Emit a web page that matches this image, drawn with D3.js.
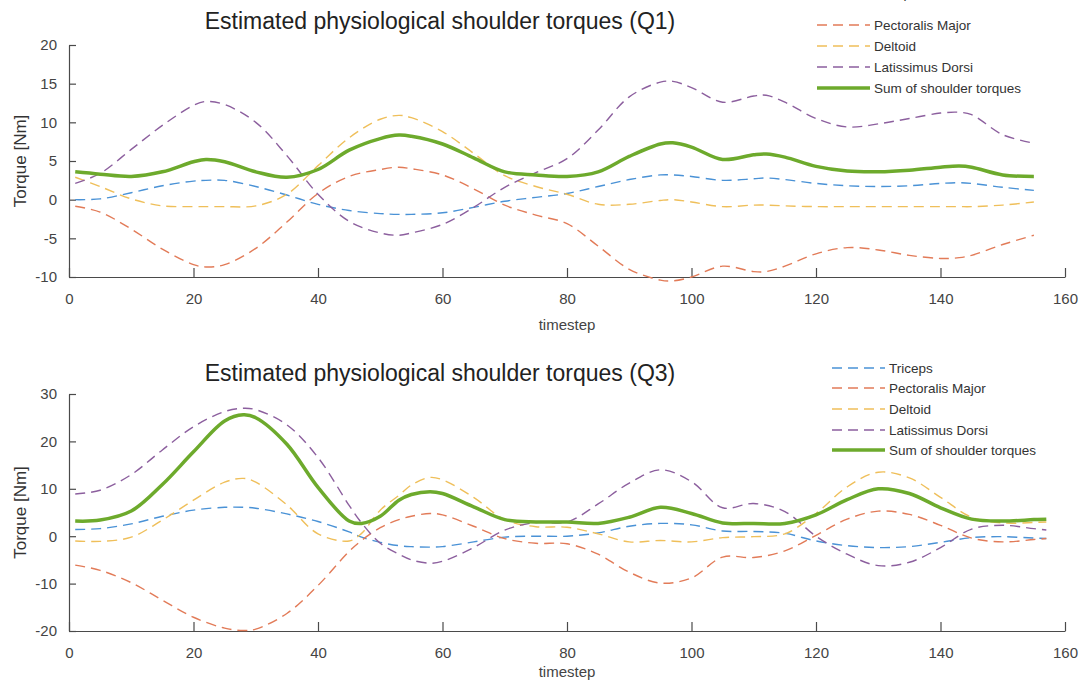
<!DOCTYPE html>
<html><head><meta charset="utf-8">
<script src="https://cdn.jsdelivr.net/npm/d3@7"></script>
<style>
body{margin:0;background:#fff;}
svg{display:block;font-family:"Liberation Sans",Arial,sans-serif;}
</style></head>
<body><svg id="c" width="1082" height="681"></svg>
<script>
// ---------- DATA ----------
const seriesNames = ["Triceps","Pectoralis Major","Deltoid","Latissimus Dorsi","Sum of shoulder torques"];
const xTicks = [0,20,40,60,80,100,120,140,160];

// Q1
const q1Time = [1,5,10,15,20,22,25,30,35,40,45,50,53,55,60,65,70,75,80,85,90,95,97,100,105,110,112,115,120,125,130,135,140,143,145,150,155];
const q1Triceps = [0,0.1,0.9,1.8,2.4,2.5,2.5,1.7,0.6,-0.6,-1.4,-1.8,-1.9,-1.9,-1.7,-1.0,-0.2,0.3,0.8,1.7,2.6,3.2,3.2,3.0,2.5,2.7,2.8,2.6,2.1,1.8,1.7,1.8,2.1,2.2,2.1,1.6,1.2];
const q1Pectoralis = [-0.85,-1.6,-3.8,-6.4,-8.4,-8.7,-8.4,-6.3,-2.9,0.8,3.0,3.9,4.2,4.0,3.2,1.4,-0.7,-2.0,-3.1,-6.0,-9.0,-10.4,-10.5,-10.0,-8.6,-9.3,-9.3,-8.6,-7.0,-6.2,-6.5,-7.2,-7.6,-7.5,-7.2,-5.8,-4.6];
const q1Deltoid = [2.9,1.7,0.1,-0.8,-0.9,-0.9,-0.9,-0.8,0.7,4.4,8.0,10.4,10.9,10.6,8.8,6.0,3.1,1.7,0.7,-0.6,-0.6,-0.1,0,-0.3,-0.9,-0.7,-0.7,-0.8,-0.9,-0.9,-0.9,-0.9,-0.9,-0.9,-0.9,-0.7,-0.3];
const q1Latissimus = [2.1,3.4,6.5,9.6,12.2,12.7,12.3,10.0,5.7,0.7,-2.8,-4.3,-4.6,-4.3,-3.2,-1.0,1.6,3.5,5.3,9.0,13.3,15.2,15.3,14.5,12.6,13.4,13.5,12.6,10.5,9.4,9.8,10.5,11.2,11.3,11.0,8.4,7.3];
const q1Sum = [3.6,3.3,3.0,3.6,4.9,5.2,4.9,3.6,2.9,3.9,6.4,7.9,8.35,8.2,7.2,5.4,3.6,3.2,3.0,3.6,5.6,7.2,7.35,6.8,5.2,5.8,5.9,5.5,4.3,3.7,3.6,3.8,4.2,4.35,4.2,3.2,3.0];
const q1YTicks = [-10,-5,0,5,10,15,20];

// Q3
const q3Time = [1,5,10,15,20,25,28,30,35,40,45,47,50,53,55,58,60,65,70,75,80,85,90,95,100,105,110,115,120,125,130,135,140,145,150,155,157];
const q3Triceps = [1.4,1.6,2.6,4.2,5.5,6.1,6.1,5.9,4.7,3.1,0.9,-0.2,-1.3,-2.0,-2.2,-2.3,-2.2,-1.2,-0.2,0,0,0.7,2.1,2.7,2.4,1.1,1.0,0.6,-1.0,-2.0,-2.4,-2.2,-1.3,-0.3,-0.1,-0.4,-0.5];
const q3Pectoralis = [-6.1,-7.2,-9.8,-13.5,-17.1,-19.4,-19.9,-19.6,-16.3,-10.4,-3.2,-0.9,1.8,3.5,4.2,4.8,4.5,2.1,-0.5,-1.5,-1.6,-3.8,-7.6,-9.9,-8.8,-4.4,-4.5,-3.1,0.2,3.6,5.3,4.6,2.3,-0.4,-1.2,-0.7,-0.5];
const q3Deltoid = [-1.0,-1.1,-0.2,3.4,7.6,11.4,12.2,11.4,6.6,0.5,-1.0,0.6,5.5,8.6,10.8,12.4,11.9,8.2,3.5,2.0,1.9,0.5,-1.2,-0.9,-1.2,-0.3,-0.1,0.5,4.8,10.4,13.5,12.3,8.2,4.0,2.8,2.9,3.0];
const q3Latissimus = [8.9,9.7,13.0,18.2,23.1,26.3,27.0,26.7,23.5,16.6,6.5,2.8,-1.5,-3.8,-5.0,-5.7,-5.3,-2.4,1.3,2.9,3.0,6.8,11.2,14.0,11.5,6.0,6.9,5.2,0.0,-3.8,-6.2,-5.5,-2.4,1.5,2.3,1.6,1.3];
const q3Sum = [3.2,3.4,5.3,10.9,17.8,24.3,25.6,25.0,19.4,10.3,3.2,2.7,4.2,7.6,8.8,9.4,9.0,6.2,3.5,3.0,3.0,2.7,4.0,6.1,4.8,2.8,2.7,2.7,4.5,7.7,10.0,9.0,6.0,3.6,3.2,3.5,3.6];
const q3YTicks = [-20,-10,0,10,20,30];

// ---------- STYLE ----------
const colors = ["#4a92d6","#e27b58","#efbf5a","#8c5f9e","#6daa2c"];
const svg = d3.select("#c");
const xRange = [69,1065];
const fmt = d => String(d);

function panel(cfg){
  const x = d3.scaleLinear().domain([0,160]).range(xRange);
  const y = d3.scaleLinear().domain(cfg.yDomain).range([cfg.yBottom,cfg.yTop]);
  const g = svg.append("g");

  // axes
  const xa = g.append("g").attr("transform",`translate(0,${cfg.yBottom})`)
    .call(d3.axisBottom(x).tickValues(xTicks).tickFormat(fmt).tickSize(-9).tickPadding(16).tickSizeOuter(0));
  const ya = g.append("g").attr("transform",`translate(${xRange[0]},0)`)
    .call(d3.axisLeft(y).tickValues(cfg.yTicks).tickFormat(fmt).tickSize(-7).tickPadding(12).tickSizeOuter(0));
  [xa,ya].forEach(a=>{
    a.select(".domain").attr("stroke","#4a4a4a").attr("stroke-width",1.2);
    a.selectAll(".tick line").attr("stroke","#4a4a4a").attr("stroke-width",1.2);
    a.selectAll(".tick text").attr("fill","#444").style("font-size","15px");
  });

  // lines
  const series = cfg.series;
  series.forEach((vals,i)=>{
    const pts = cfg.time.map((t,k)=>[t,vals[k]]);
    g.append("path").datum(pts)
      .attr("fill","none")
      .attr("stroke",colors[i])
      .attr("stroke-width", i===4 ? 3.5 : 1.4)
      .attr("stroke-dasharray", i===4 ? null : "10,6")
      .attr("d", d3.line().x(d=>x(d[0])).y(d=>y(d[1])).curve(d3.curveCatmullRom.alpha(0.5)));
  });

  // titles
  g.append("text").attr("x",440).attr("y",cfg.titleY).attr("text-anchor","middle")
    .attr("fill","#222").style("font-size","23px").text(cfg.title);
  g.append("text").attr("x",(xRange[0]+xRange[1])/2).attr("y",cfg.xLabelY).attr("text-anchor","middle")
    .attr("fill","#444").style("font-size","15px").text("timestep");
  g.append("text").attr("transform",`translate(26,${(cfg.yTop+cfg.yBottom)/2}) rotate(-90)`)
    .attr("text-anchor","middle").attr("fill","#333").style("font-size","17px").text("Torque [Nm]");

  // legend
  const lg = g.append("g");
  seriesNames.forEach((name,i)=>{
    const ly = cfg.legendY[i];
    lg.append("line").attr("x1",cfg.legendX).attr("x2",cfg.legendX+53).attr("y1",ly).attr("y2",ly)
      .attr("stroke",colors[i]).attr("stroke-width", i===4 ? 3.5 : 1.4)
      .attr("stroke-dasharray", i===4 ? null : "10,6");
    lg.append("text").attr("x",cfg.legendX+57).attr("y",ly).attr("dy","0.35em")
      .attr("fill","#333").style("font-size","13.5px").text(name);
  });
}

panel({
  time:q1Time, series:[q1Triceps,q1Pectoralis,q1Deltoid,q1Latissimus,q1Sum],
  yDomain:[-10,20], yTop:45, yBottom:277, yTicks:q1YTicks,
  title:"Estimated physiological shoulder torques (Q1)", titleY:29, xLabelY:330,
  legendX:817, legendY:[-7,25,46,67,88]
});
panel({
  time:q3Time, series:[q3Triceps,q3Pectoralis,q3Deltoid,q3Latissimus,q3Sum],
  yDomain:[-20,30], yTop:394, yBottom:631, yTicks:q3YTicks,
  title:"Estimated physiological shoulder torques (Q3)", titleY:381, xLabelY:677,
  legendX:832, legendY:[368,388,409,430,450]
});
</script></body></html>
